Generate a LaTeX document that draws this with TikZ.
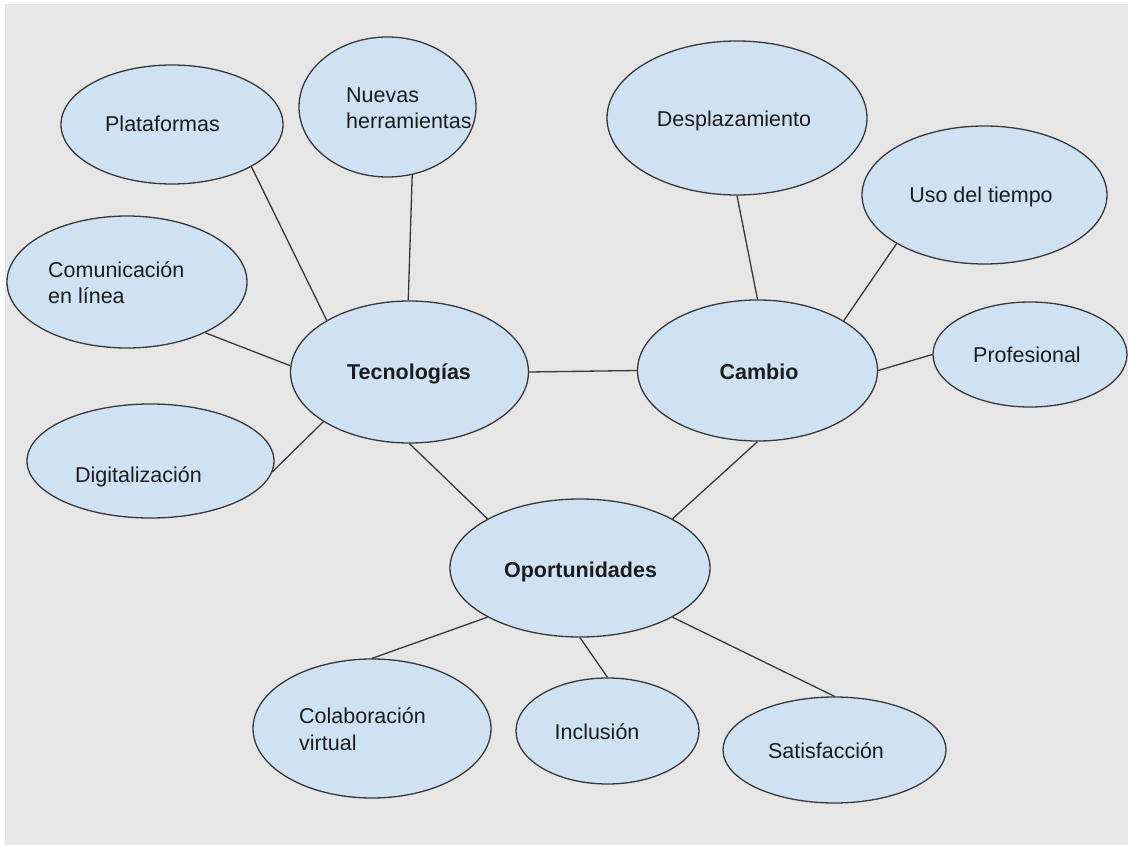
\documentclass[tikz,border=0pt]{standalone}
\usepackage{fontspec}
\setmainfont{Liberation Sans}
\usetikzlibrary{shapes.geometric}
\definecolor{bgc}{HTML}{E6E6E6}
\definecolor{fillc}{HTML}{CFE2F3}
\definecolor{edgec}{HTML}{383838}
\definecolor{txtc}{HTML}{1C1C1C}
\tikzset{
  bubble/.style={ellipse, draw=edgec, fill=fillc, line width=1.3pt, inner sep=0pt},
  lbl/.style={text=txtc, inner sep=0pt, font=\fontsize{21.5}{26.5}\selectfont},
  blbl/.style={lbl, font=\fontsize{21.5}{26.5}\selectfont\bfseries},
  conn/.style={draw=edgec, line width=1.3pt}
}
\begin{document}
\begin{tikzpicture}[x=1pt,y=-1pt]
\useasboundingbox (0,0) rectangle (1128,845);
\fill[white] (0,0) rectangle (1128,845);
\fill[bgc] (5,4) rectangle (1128,845);

% ellipses
\node[bubble, minimum width=222pt, minimum height=119pt] (plat) at (172,124.5) {};
\node[bubble, minimum width=177pt, minimum height=140pt] (nuev) at (387.5,107) {};
\node[bubble, minimum width=240pt, minimum height=132pt] (comu) at (127,282) {};
\node[bubble, minimum width=247pt, minimum height=114pt] (digi) at (150.5,461) {};
\node[bubble, minimum width=238pt, minimum height=142pt] (tec) at (409.5,372) {};
\node[bubble, minimum width=260pt, minimum height=154pt] (desp) at (737,118) {};
\node[bubble, minimum width=245pt, minimum height=138pt] (uso) at (984.5,195) {};
\node[bubble, minimum width=240pt, minimum height=141pt] (cam) at (757.5,370.5) {};
\node[bubble, minimum width=194pt, minimum height=105pt] (prof) at (1030,354.5) {};
\node[bubble, minimum width=260pt, minimum height=138pt] (opo) at (580,568) {};
\node[bubble, minimum width=238pt, minimum height=139pt] (cola) at (372,728.5) {};
\node[bubble, minimum width=183pt, minimum height=106pt] (incl) at (607.5,731) {};
\node[bubble, minimum width=223pt, minimum height=106pt] (sati) at (834.5,750) {};

% texts
\node[lbl, anchor=base] (tplat) at (162.5,132) {Plataformas};
\node[lbl, anchor=base west, align=left] (tnuev) at (346,129) {Nuevas\\herramientas};
\node[lbl, anchor=base west, align=left] (tcomu) at (48,304) {Comunicación\\en línea};
\node[lbl, anchor=base] (tdigi) at (138.5,482) {Digitalización};
\node[blbl, anchor=base] (ttec) at (409,379) {Tecnologías};
\node[lbl, anchor=base] (tdesp) at (734,127) {Desplazamiento};
\node[lbl, anchor=base] (tuso) at (981,203) {Uso del tiempo};
\node[lbl, anchor=base] (tprof) at (1027,362) {Profesional};
\node[blbl, anchor=base] (tcam) at (759,379) {Cambio};
\node[blbl, anchor=base] (topo) at (580.5,577) {Oportunidades};
\node[lbl, anchor=base west, align=left] (tcola) at (299,750) {Colaboración\\virtual};
\node[lbl, anchor=base] (tincl) at (597,739) {Inclusión};
\node[lbl, anchor=base] (tsati) at (826,758) {Satisfacción};

% connectors
\draw[conn] (plat.-28.3) -- (tec.148.7);
\draw[conn] (nuev.-70) -- (tec.91);
\draw[conn] (comu.-33) -- (tec.177);
\draw[conn] (digi.-5) -- (tec.210.3);
\draw[conn] (tec.east) -- (cam.west);
\draw[conn] (tec.south) -- (opo.152);
\draw[conn] (cam.south) -- (opo.28);
\draw[conn] (cam.north) -- (desp.south);
\draw[conn] (cam.30) -- (uso.209);
\draw[conn] (cam.east) -- (prof.west);
\draw[conn] (opo.208.7) -- (cola.north);
\draw[conn] (opo.south) -- (incl.north);
\draw[conn] (opo.-28.7) -- (sati.north);
\end{tikzpicture}
\end{document}
